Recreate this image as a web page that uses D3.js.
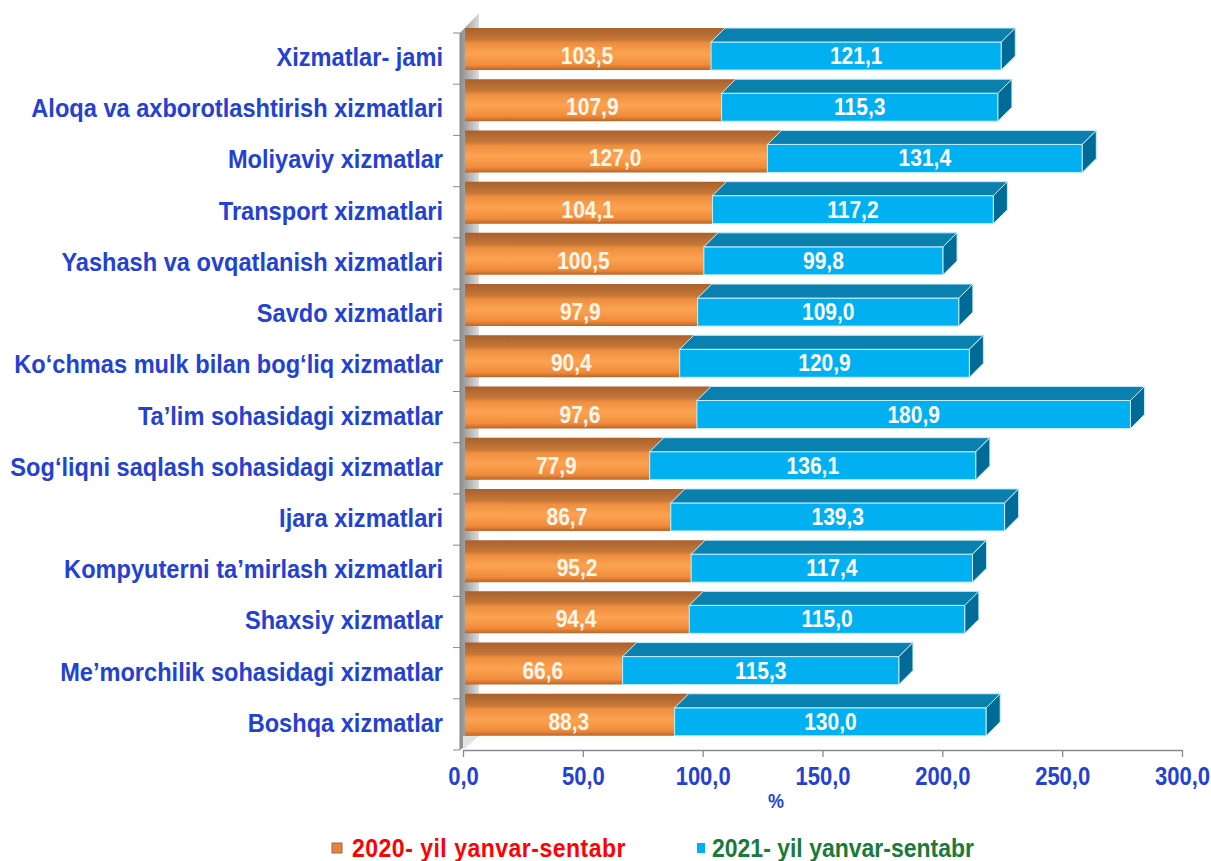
<!DOCTYPE html>
<html>
<head>
<meta charset="utf-8">
<script src="https://cdn.jsdelivr.net/npm/d3@7"></script>
<style>
  body { margin: 0; background: #fff; }
  text { font-family: "Liberation Sans", Arial, sans-serif; }
</style>
</head>
<body>
<div id="chart"></div>
<script>
// Xizmatlar hajmi indeksi, 2020 va 2021 yanvar-sentabr (%)

var categories = [
  "Xizmatlar- jami",
  "Aloqa va axborotlashtirish xizmatlari",
  "Moliyaviy xizmatlar",
  "Transport xizmatlari",
  "Yashash va ovqatlanish xizmatlari",
  "Savdo xizmatlari",
  "Ko‘chmas mulk bilan bog‘liq xizmatlar",
  "Ta’lim sohasidagi xizmatlar",
  "Sog‘liqni saqlash sohasidagi xizmatlar",
  "Ijara xizmatlari",
  "Kompyuterni ta’mirlash xizmatlari",
  "Shaxsiy xizmatlar",
  "Me’morchilik sohasidagi xizmatlar",
  "Boshqa xizmatlar"
];
var values2020 = [103.5, 107.9, 127.0, 104.1, 100.5, 97.9, 90.4, 97.6, 77.9, 86.7, 95.2, 94.4, 66.6, 88.3];
var values2021 = [121.1, 115.3, 131.4, 117.2, 99.8, 109.0, 120.9, 180.9, 136.1, 139.3, 117.4, 115.0, 115.3, 130.0];
var xTicks = [0, 50, 100, 150, 200, 250, 300];
var seriesNames = ["2020- yil yanvar-sentabr", "2021- yil yanvar-sentabr"];

var svgWidth = 1211;
var svgHeight = 861;
var depthX = 14, depthY = 14;
var labelBlue = "#2442d2";
var stretch = 1.13; // text in the original is a bit taller than wide

var svg = d3.select("#chart")
  .append("svg")
  .attr("width", svgWidth)
  .attr("height", svgHeight);

var defs = svg.append("defs");

var og = defs.append("linearGradient").attr("id", "orangeGrad")
  .attr("x1", 0).attr("y1", 0).attr("x2", 0).attr("y2", 1);
og.append("stop").attr("offset", "0%").attr("stop-color", "#a9602c");
og.append("stop").attr("offset", "28%").attr("stop-color", "#c57838");
og.append("stop").attr("offset", "36%").attr("stop-color", "#ee8e3e");
og.append("stop").attr("offset", "62%").attr("stop-color", "#fba352");
og.append("stop").attr("offset", "88%").attr("stop-color", "#f08b3b");
og.append("stop").attr("offset", "100%").attr("stop-color", "#b8662a");

var wg = defs.append("linearGradient").attr("id", "wallGrad")
  .attr("x1", 0).attr("y1", 0).attr("x2", 1).attr("y2", 0);
wg.append("stop").attr("offset", "0%").attr("stop-color", "#8c8c8c");
wg.append("stop").attr("offset", "100%").attr("stop-color", "#dcdcdc");

var x = d3.scaleLinear()
  .domain([0, 300])
  .range([463, 1182]);

var y = d3.scaleBand()
  .domain(categories)
  .range([33, 750]);

var data = categories.map(function (c, i) {
  return { name: c, v1: values2020[i], v2: values2021[i] };
});

function fmt(v) { return d3.format(".1f")(v).replace(".", ","); }
function place(px, py) { return "translate(" + px + "," + py + ") scale(1," + stretch + ")"; }

// side wall
svg.append("polygon")
  .attr("points", [[460, 750], [460, 33], [479, 13], [479, 736]].join(" "))
  .attr("fill", "url(#wallGrad)");
svg.append("polygon")
  .attr("points", [[463, 736], [479, 736], [463, 750]].join(" "))
  .attr("fill", "#e2e2e2");
svg.append("line")
  .attr("x1", 460).attr("x2", 460).attr("y1", 33).attr("y2", 750)
  .attr("stroke", "#8a8a8a");

// category boundary ticks
var bounds = categories.map(function (c) { return y(c); }).concat([y.range()[1]]);
svg.selectAll(".ytick")
  .data(bounds)
  .enter()
  .append("line")
  .attr("x1", 453).attr("x2", 460)
  .attr("y1", d => d).attr("y2", d => d)
  .attr("stroke", "#8a8a8a");

// x axis
var bottomAxis = d3.axisBottom(x)
  .tickValues(xTicks)
  .tickSize(7)
  .tickSizeOuter(0)
  .tickFormat(fmt);

var xAxis = svg.append("g")
  .attr("transform", "translate(0, 750)")
  .call(bottomAxis);
xAxis.select(".domain").attr("stroke", "#8a8a8a").attr("stroke-width", 1.3);
xAxis.selectAll(".tick line").attr("stroke", "#8a8a8a").attr("stroke-width", 1.3);
xAxis.selectAll(".tick text")
  .attr("y", null)
  .attr("dy", 0)
  .attr("transform", place(0, 35))
  .attr("fill", labelBlue)
  .attr("font-size", 22)
  .attr("font-weight", "bold")
  .attr("font-family", "Liberation Sans, Arial, sans-serif");

svg.append("text")
  .attr("transform", place(776, 808))
  .attr("text-anchor", "middle")
  .attr("fill", labelBlue)
  .attr("font-size", 18)
  .attr("font-weight", "bold")
  .text("%");

// bars
var bars = svg.selectAll(".bar")
  .data(data)
  .enter()
  .append("g")
  .attr("class", "bar");

function frontTop(d) { return y(d.name) + 9; }
var frontH = 28;

bars.append("polygon")
  .attr("points", function (d) {
    var x0 = x(0) + 2, x1 = x(d.v1), t = frontTop(d);
    return [[x0, t - depthY], [x1 + depthX, t - depthY], [x1, t], [x1, t + frontH], [x0, t + frontH]].join(" ");
  })
  .attr("fill", "url(#orangeGrad)");

// blue front
bars.append("rect")
  .attr("x", d => x(d.v1))
  .attr("y", d => frontTop(d))
  .attr("width", d => x(d.v1 + d.v2) - x(d.v1))
  .attr("height", frontH)
  .attr("fill", "#00b0f0")
  .attr("stroke", "#c4ecfa")
  .attr("stroke-width", 1);

// blue top
bars.append("polygon")
  .attr("points", function (d) {
    var a = x(d.v1), b = x(d.v1 + d.v2), t = frontTop(d);
    return [[a, t], [a + depthX, t - depthY], [b + depthX, t - depthY], [b, t]].join(" ");
  })
  .attr("fill", "#0a80ae")
  .attr("stroke", "#c4ecfa")
  .attr("stroke-width", 1);

// blue side
bars.append("polygon")
  .attr("points", function (d) {
    var b = x(d.v1 + d.v2), t = frontTop(d);
    return [[b, t], [b + depthX, t - depthY], [b + depthX, t - depthY + frontH], [b, t + frontH]].join(" ");
  })
  .attr("fill", "#006b96")
  .attr("stroke", "#c4ecfa")
  .attr("stroke-width", 1);

// value labels
bars.append("text")
  .attr("transform", d => place((x(0) + x(d.v1)) / 2, frontTop(d) + frontH / 2 + 8))
  .attr("text-anchor", "middle")
  .attr("fill", "#fff6ea")
  .attr("font-size", 21)
  .attr("font-weight", "bold")
  .text(d => fmt(d.v1));

bars.append("text")
  .attr("transform", d => place((x(d.v1) + x(d.v1 + d.v2)) / 2, frontTop(d) + frontH / 2 + 8))
  .attr("text-anchor", "middle")
  .attr("fill", "#ffffff")
  .attr("font-size", 21)
  .attr("font-weight", "bold")
  .text(d => fmt(d.v2));

// category labels
svg.selectAll(".cat")
  .data(data)
  .enter()
  .append("text")
  .attr("class", "cat")
  .attr("transform", d => place(443, frontTop(d) + frontH / 2 + 10))
  .attr("text-anchor", "end")
  .attr("fill", labelBlue)
  .attr("font-size", 23.6)
  .attr("font-weight", "bold")
  .text(d => d.name);

// legend
var legend = svg.append("g").attr("transform", "translate(0, 848)");
legend.append("rect")
  .attr("x", 332).attr("y", -5).attr("width", 10).attr("height", 10)
  .attr("fill", "#e8823a").attr("stroke", "#9a6a48");
legend.append("text")
  .attr("transform", place(352, 9))
  .attr("fill", "#ff0000")
  .attr("font-size", 23)
  .attr("font-weight", "bold")
  .attr("letter-spacing", 0.5)
  .text(seriesNames[0]);
legend.append("rect")
  .attr("x", 697).attr("y", -5).attr("width", 8).attr("height", 10)
  .attr("fill", "#00b0f0");
legend.append("text")
  .attr("transform", place(712, 9))
  .attr("fill", "#1a7a3a")
  .attr("font-size", 23)
  .attr("font-weight", "bold")
  .text(seriesNames[1]);
</script>
</body>
</html>
